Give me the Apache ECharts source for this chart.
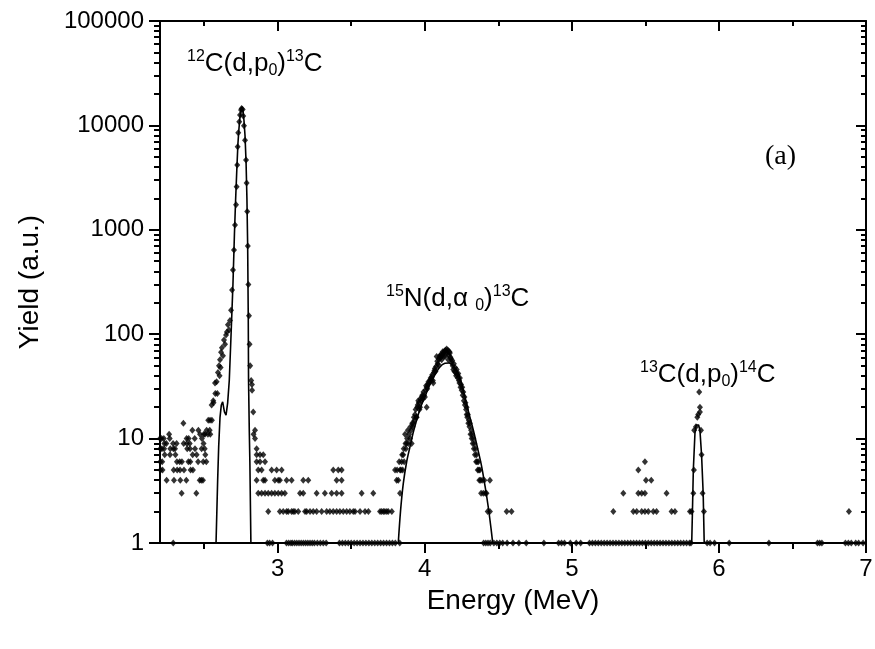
<!DOCTYPE html>
<html><head><meta charset="utf-8">
<script src="https://cdn.jsdelivr.net/npm/echarts@6/dist/echarts.min.js"></script>
<style>html,body{margin:0;padding:0;background:#fff}#c{width:875px;height:649px}</style>
</head><body><div id="c"></div><script>
// ---- tick definitions ----
const xTicks = [3, 4, 5, 6, 7];
const xMinorTicks = [2.5, 3.5, 4.5, 5.5, 6.5];
const yDecades = [1, 10, 100, 1000, 10000, 100000];
const yMinorFactors = [2, 3, 4, 5, 6, 7, 8, 9];

// ---- measured spectrum [energy MeV, counts] ----
const lowLeft = [
 [2.200,10],[2.202,8],[2.202,6],[2.204,5],[2.211,10],[2.213,8],[2.215,6],[2.217,5],
 [2.226,10],[2.228,8],[2.230,9],[2.232,7],[2.245,4],[2.243,9],[2.262,11],[2.266,10],
 [2.268,7],[2.270,8],[2.289,9],[2.291,8],[2.293,5],[2.295,4],[2.302,8],[2.305,7],
 [2.313,9],[2.315,6],[2.317,5],[2.334,6],[2.336,5],[2.338,4],[2.347,3],[2.349,6],
 [2.359,14],[2.361,9],[2.363,5],[2.379,4],[2.381,10],[2.383,9],[2.385,8],[2.393,6],
 [2.395,10],[2.402,9],[2.404,8],[2.406,6],[2.408,5],[2.420,12],[2.422,7],[2.424,5],
 [2.436,10],[2.438,8],[2.447,3],[2.449,7],[2.459,6],[2.461,12],[2.470,4],[2.472,11],
 [2.481,4],[2.483,8],[2.485,10],[2.492,4],[2.494,6],[2.496,9],[2.498,11],[2.504,8],
 [2.506,11],[2.508,7],[2.515,6],[2.517,12],[2.526,11],[2.528,15],[2.538,12],[2.540,15],
 [2.542,11],[2.551,21],[2.553,15],[2.562,23],[2.564,22],[2.574,34],[2.576,27],[2.585,35],[2.590,27]
];
const peak12C = [
 [2.594,43],[2.601,50],[2.605,40],[2.608,57],[2.612,48],[2.615,67],[2.621,74],[2.628,62],
 [2.635,88],[2.642,80],[2.649,98],[2.655,105],[2.662,123],[2.669,110],[2.676,135],[2.683,170],
 [2.690,265],[2.696,412],[2.703,640],[2.710,1110],[2.717,1740],[2.721,2590],[2.725,4180],
 [2.728,6250],[2.732,8510],[2.739,10860],[2.744,12600],[2.751,14060],[2.755,14500],
 [2.762,14200],[2.766,12300],[2.771,9950],[2.778,7200],[2.785,4660],[2.789,2800],
 [2.793,1500],[2.797,700],[2.801,300],[2.805,150],[2.809,80],[2.813,50],[2.820,36],
 [2.825,33],[2.826,29],[2.834,18],[2.836,11],[2.846,12],[2.846,10]
];
const lowMid = [
 [2.857,8],[2.857,7],[2.880,7],[2.902,7],[2.857,6],[2.880,6],[2.914,6],
 [2.868,5],[2.891,5],[2.959,5],[2.993,5],[3.027,5],[3.378,5],[3.412,5],[3.435,5],
 [2.857,4],[2.902,4],[2.914,4],[2.981,4],[3.004,4],[3.015,4],[3.061,4],[3.095,4],
 [3.174,4],[3.208,4],[3.401,4],[3.435,4],
 [2.868,3],[2.891,3],[2.914,3],[2.936,3],[2.959,3],[2.981,3],[3.004,3],[3.027,3],
 [3.049,3],[3.152,3],[3.174,3],[3.265,3],[3.321,3],[3.367,3],[3.401,3],[3.435,3],
 [3.571,3],[3.650,3],
 [2.936,2],[3.015,2],[3.038,2],[3.061,2],[3.072,2],[3.095,2],[3.106,2],[3.117,2],
 [3.140,2],[3.186,2],[3.197,2],[3.220,2],[3.242,2],[3.265,2],[3.299,2],[3.333,2],
 [3.355,2],[3.378,2],[3.401,2],[3.423,2],[3.446,2],[3.469,2],[3.491,2],[3.514,2],
 [3.526,2],[3.560,2],[3.594,2],[3.617,2],[3.696,2],[3.707,2],[3.719,2],[3.729,2],
 [3.742,2],[3.752,2],[3.776,2]
];
const peak15N = [
 [3.798,5],[3.809,4],[3.812,5],[3.820,4],[3.826,6],[3.832,5],[3.832,3],[3.838,5],[3.843,6],
 [3.846,7],[3.850,5],[3.854,7],[3.857,8],[3.860,6],[3.866,11],[3.869,9],[3.872,8],[3.877,9],
 [3.880,10],[3.885,12],[3.889,9],[3.894,11],[3.900,10],[3.903,13],[3.907,12],[3.911,9],
 [3.915,14],[3.918,13],[3.922,14],[3.926,16],[3.930,15],[3.934,17],[3.938,19],[3.942,16],
 [3.945,16],[3.949,20],[3.952,21],[3.956,23],[3.960,22],[3.964,19],[3.968,20],[3.971,24],
 [3.975,23],[3.979,25],[3.983,26],[3.987,24],[3.991,28],[3.995,26],[4.001,25],[4.005,29],
 [4.009,32],[4.013,31],[4.013,20],[4.017,30],[4.021,33],[4.025,35],[4.029,34],[4.035,36],
 [4.040,38],[4.044,37],[4.047,39],[4.051,41],[4.055,36],[4.058,34],[4.062,43],[4.066,45],
 [4.069,47],[4.073,44],[4.077,49],[4.081,61],[4.085,55],[4.088,52],[4.092,51],[4.096,58],
 [4.100,60],[4.103,62],[4.107,59],[4.111,64],[4.115,57],[4.119,63],[4.122,68],[4.126,66],
 [4.130,61],[4.134,69],[4.138,61],[4.142,70],[4.146,67],[4.149,72],[4.153,66],[4.157,70],
 [4.160,57],[4.164,63],[4.168,68],[4.171,66],[4.175,60],[4.179,58],[4.183,54],[4.187,56],
 [4.190,50],[4.194,46],[4.198,52],[4.202,44],[4.206,48],[4.210,43],[4.213,40],[4.217,46],
 [4.221,41],[4.225,38],[4.228,42],[4.232,36],[4.236,34],[4.239,38],[4.243,31],[4.247,33],
 [4.251,29],[4.255,31],[4.258,26],[4.262,28],[4.266,23],[4.270,25],[4.273,21],[4.277,22],
 [4.281,19],[4.285,20],[4.285,17],[4.289,16],[4.293,17],[4.296,14],[4.300,15],[4.304,13],
 [4.307,14],[4.311,11],[4.315,12],[4.319,10],[4.322,11],[4.326,9],[4.330,10],[4.334,8],
 [4.337,9],[4.341,7],[4.345,8],[4.349,6],[4.352,7],[4.356,6],[4.360,5],[4.364,6],[4.368,5],
 [4.371,4],[4.375,5],[4.379,4],[4.383,3],[4.390,4],[4.398,3],[4.405,4],[4.412,3],[4.420,3],
 [4.428,2],[4.443,4],[4.443,2]
];
const lowRight = [
 [4.557,2],[4.590,2],[5.282,2],[5.350,3],[5.418,2],[5.441,2],[5.452,5],[5.452,3],[5.475,3],
 [5.497,3],[5.475,2],[5.497,2],[5.520,2],[5.554,2],[5.576,2],[5.497,6],[5.504,4],[5.540,4],
 [5.644,3],[5.678,2],[5.701,2],[5.803,2],[6.884,2]
];
const peak13C = [
 [5.814,2],[5.826,3],[5.830,5],[5.832,12],[5.844,13],[5.853,16],[5.859,17],[5.866,28],
 [5.871,20],[5.871,18],[5.878,12],[5.882,7],[5.889,3],[5.898,2]
];
const baseline = [
 [2.290,1],[2.930,1],[2.945,1],[2.965,1],[3.060,1],[3.075,1],[3.090,1],[3.100,1],[3.115,1],
 [3.130,1],[3.145,1],[3.160,1],[3.175,1],[3.190,1],[3.205,1],[3.220,1],[3.235,1],[3.250,1],
 [3.270,1],[3.290,1],[3.310,1],[3.330,1],[3.420,1],[3.440,1],[3.460,1],[3.480,1],[3.500,1],
 [3.520,1],[3.540,1],[3.560,1],[3.580,1],[3.600,1],[3.620,1],[3.640,1],[3.660,1],[3.680,1],
 [3.700,1],[3.720,1],[3.740,1],[3.760,1],[3.780,1],[3.800,1],[3.830,1],[4.400,1],[4.415,1],
 [4.430,1],[4.445,1],[4.470,1],[4.490,1],[4.510,1],[4.530,1],[4.560,1],[4.600,1],[4.640,1],
 [4.690,1],[4.810,1],[4.910,1],[4.930,1],[4.950,1],[4.990,1],[5.030,1],[5.060,1],[5.120,1],
 [5.140,1],[5.160,1],[5.180,1],[5.200,1],[5.220,1],[5.240,1],[5.260,1],[5.280,1],[5.300,1],
 [5.320,1],[5.340,1],[5.360,1],[5.380,1],[5.400,1],[5.420,1],[5.440,1],[5.460,1],[5.480,1],
 [5.500,1],[5.520,1],[5.540,1],[5.560,1],[5.580,1],[5.600,1],[5.620,1],[5.640,1],[5.660,1],
 [5.680,1],[5.700,1],[5.720,1],[5.740,1],[5.760,1],[5.780,1],[5.800,1],[5.810,1],[5.920,1],
 [5.940,1],[5.970,1],[6.070,1],[6.340,1],[6.670,1],[6.685,1],[6.700,1],[6.860,1],[6.880,1],
 [6.900,1],[6.930,1],[6.950,1],[6.980,1]
];

// ---- fitted curves [energy MeV, yield] ----
const fit12C = [
 [2.581,1],[2.592,4],[2.599,8.4],[2.608,16],[2.617,21],[2.626,22.5],[2.638,18],[2.649,16.8],
 [2.660,22],[2.671,36],[2.682,90],[2.696,300],[2.706,900],[2.714,1930],[2.723,4025],
 [2.730,6740],[2.737,9380],[2.744,12100],[2.751,14260],[2.757,15100],[2.764,14060],
 [2.771,11100],[2.778,8000],[2.785,4500],[2.791,2000],[2.796,700],[2.800,150],[2.802,36],
 [2.807,12],[2.811,6],[2.818,1]
];
const fit15N = [
 [3.820,1],[3.835,2],[3.854,3.7],[3.877,6],[3.900,8.4],[3.922,11.5],[3.945,15.1],[3.972,20],
 [4.001,25.2],[4.035,33],[4.069,40.7],[4.100,48],[4.137,52.6],[4.165,53],[4.190,50],
 [4.217,45.4],[4.245,36],[4.273,25.2],[4.300,17.5],[4.330,12.1],[4.360,8],[4.387,5.4],
 [4.410,3.5],[4.432,2.2],[4.450,1.4],[4.462,1]
];
const fit13C = [
 [5.815,1],[5.820,2],[5.826,5],[5.837,11.2],[5.845,13.5],[5.853,14],[5.862,13.5],
 [5.871,12],[5.882,7],[5.893,3],[5.900,1]
];

const FONT = '"Liberation Sans", Arial, sans-serif';
const yMinorLog = [];
for (let d = 0; d < yDecades.length - 1; d++) {
  yMinorFactors.forEach(f => yMinorLog.push(Math.log10(f * yDecades[d])));
}
const black = '#000';
const points = [].concat(lowLeft, peak12C, lowMid, peak15N, lowRight, peak13C, baseline);

const chart = echarts.init(document.getElementById('c'), null, {renderer: 'canvas'});
const lineAxis = {show: true, onZero: false, lineStyle: {color: black, width: 2}};
const hiddenLine = {show: false, onZero: false};
const richSS = {sup: {fontSize: 16, fontFamily: FONT, verticalAlign: 'top', lineHeight: 30},
                sub: {fontSize: 16, fontFamily: FONT, verticalAlign: 'bottom', lineHeight: 30}};
chart.setOption({
  animation: false,
  backgroundColor: '#fff',
  grid: {left: 160, right: 9, top: 21, bottom: 106, containLabel: false, outerBoundsMode: 'none'},
  xAxis: [
    {type: 'value', min: 2.2, max: 7, position: 'bottom', axisLine: lineAxis, splitLine: {show: false},
     axisTick: {show: true, inside: false, length: 10, customValues: xTicks, lineStyle: {color: black, width: 2}},
     axisLabel: {show: true, customValues: xTicks, fontSize: 24, color: black, fontFamily: FONT, margin: 14},
     name: 'Energy (MeV)', nameLocation: 'middle', nameGap: 44,
     nameTextStyle: {fontSize: 28, color: black, fontFamily: FONT}},
    {type: 'value', min: 2.2, max: 7, position: 'bottom', axisLine: hiddenLine, splitLine: {show: false},
     axisTick: {show: true, inside: false, length: 6, customValues: xMinorTicks, lineStyle: {color: black, width: 2}},
     axisLabel: {show: false}},
    {type: 'value', min: 2.2, max: 7, position: 'top', axisLine: lineAxis, splitLine: {show: false},
     axisTick: {show: true, inside: true, length: 10, customValues: xTicks, lineStyle: {color: black, width: 2}},
     axisLabel: {show: false}},
    {type: 'value', min: 2.2, max: 7, position: 'top', axisLine: hiddenLine, splitLine: {show: false},
     axisTick: {show: true, inside: true, length: 5, customValues: xMinorTicks, lineStyle: {color: black, width: 2}},
     axisLabel: {show: false}}
  ],
  yAxis: [
    {type: 'log', logBase: 10, min: 1, max: 100000, interval: 1, position: 'left', axisLine: lineAxis,
     splitLine: {show: false}, minorTick: {show: false},
     axisTick: {show: true, inside: false, length: 11, lineStyle: {color: black, width: 2}},
     axisLabel: {fontSize: 24, color: black, fontFamily: FONT, margin: 16, formatter: v => String(Math.round(v))},
     name: 'Yield (a.u.)', nameLocation: 'middle', nameGap: 116,
     nameTextStyle: {fontSize: 28, color: black, fontFamily: FONT}},
    {type: 'value', min: 0, max: 5, position: 'left', axisLine: hiddenLine, splitLine: {show: false},
     axisTick: {show: true, inside: false, length: 6, customValues: yMinorLog, lineStyle: {color: black, width: 2}},
     axisLabel: {show: false}},
    {type: 'log', logBase: 10, min: 1, max: 100000, interval: 1, position: 'right', axisLine: lineAxis,
     splitLine: {show: false}, minorTick: {show: false},
     axisTick: {show: true, inside: true, length: 10, lineStyle: {color: black, width: 2}},
     axisLabel: {show: false}},
    {type: 'value', min: 0, max: 5, position: 'right', axisLine: hiddenLine, splitLine: {show: false},
     axisTick: {show: true, inside: true, length: 5, customValues: yMinorLog, lineStyle: {color: black, width: 2}},
     axisLabel: {show: false}}
  ],
  series: [
    {type: 'line', data: fit12C, xAxisIndex: 0, yAxisIndex: 0, showSymbol: false, symbol: 'none',
     lineStyle: {color: black, width: 1.6}, z: 2, clip: true},
    {type: 'line', data: fit15N, xAxisIndex: 0, yAxisIndex: 0, showSymbol: false, symbol: 'none', smooth: 0.3,
     lineStyle: {color: black, width: 1.6}, z: 2, clip: true},
    {type: 'line', data: fit13C, xAxisIndex: 0, yAxisIndex: 0, showSymbol: false, symbol: 'none',
     lineStyle: {color: black, width: 1.6}, z: 2, clip: true},
    {type: 'scatter', data: points, xAxisIndex: 0, yAxisIndex: 0, symbol: 'diamond', symbolSize: [6, 7],
     itemStyle: {color: black}, z: 3}
  ],
  graphic: [
    {type: 'text', left: 187, top: 49, style: {
      text: '{sup|12}C(d,p{sub|0}){sup|13}C', fontSize: 26, fontFamily: FONT, fill: black, lineHeight: 30, rich: richSS}},
    {type: 'text', left: 386, top: 284, style: {
      text: '{sup|15}N(d,\u03b1 {sub|0}){sup|13}C', fontSize: 26, fontFamily: FONT, fill: black, lineHeight: 30, rich: richSS}},
    {type: 'text', left: 640, top: 360, style: {
      text: '{sup|13}C(d,p{sub|0}){sup|14}C', fontSize: 26, fontFamily: FONT, fill: black, lineHeight: 30, rich: richSS}},
    {type: 'text', left: 765, top: 143, style: {
      text: '(a)', fontSize: 28, fontFamily: '"Liberation Serif", "Times New Roman", serif', fill: black}}
  ]
});
</script></body></html>
